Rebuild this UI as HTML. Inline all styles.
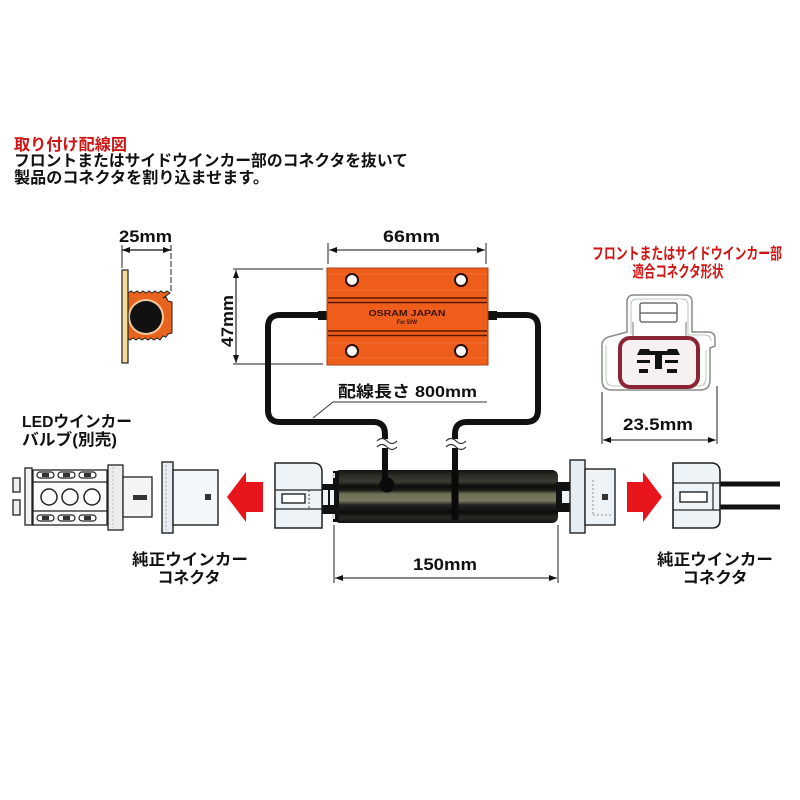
<!DOCTYPE html>
<html><head><meta charset="utf-8">
<style>
html,body{margin:0;padding:0;background:#fff;}
svg{display:block;}
text{font-family:"Liberation Sans","Noto Sans CJK JP",sans-serif;}
</style></head>
<body>
<svg width="800" height="800" viewBox="0 0 800 800" xmlns="http://www.w3.org/2000/svg">
<defs>
<marker id="ar" markerUnits="userSpaceOnUse" markerWidth="8" markerHeight="6" refX="8" refY="3" orient="auto-start-reverse"><path d="M0,0 L8,3 L0,6 z" fill="#111"/></marker>
<linearGradient id="tube" x1="0" y1="0" x2="0" y2="1">
<stop offset="0" stop-color="#111"/>
<stop offset="0.1" stop-color="#2c2c26"/>
<stop offset="0.22" stop-color="#3a3a32"/>
<stop offset="0.3" stop-color="#0e0e0c"/>
<stop offset="0.38" stop-color="#1a1a16"/>
<stop offset="0.45" stop-color="#6e6d55"/>
<stop offset="0.58" stop-color="#7a7960"/>
<stop offset="0.66" stop-color="#222"/>
<stop offset="0.8" stop-color="#0c0c0c"/>
<stop offset="0.9" stop-color="#2a2a24"/>
<stop offset="1" stop-color="#111"/>
</linearGradient>
</defs>
<rect width="800" height="800" fill="#fff"/>

<!-- Header text -->
<text x="14" y="150" font-size="16" font-weight="bold" fill="#d01414" textLength="113" lengthAdjust="spacingAndGlyphs">取り付け配線図</text>
<text x="14" y="166" font-size="16" font-weight="bold" fill="#111" textLength="394" lengthAdjust="spacingAndGlyphs">フロントまたはサイドウインカー部のコネクタを抜いて</text>
<text x="14" y="183" font-size="16" font-weight="bold" fill="#111" textLength="255" lengthAdjust="spacingAndGlyphs">製品のコネクタを割り込ませます。</text>

<!-- 25mm bracket -->
<text x="119" y="242" font-size="17" font-weight="bold" fill="#111" textLength="53" lengthAdjust="spacingAndGlyphs">25mm</text>
<line x1="122" y1="245" x2="122" y2="268" stroke="#222" stroke-width="1"/>
<line x1="171" y1="245" x2="171" y2="293" stroke="#222" stroke-width="1" stroke-dasharray="6,2"/>
<line x1="122" y1="250" x2="171" y2="250" stroke="#111" stroke-width="1.2" marker-start="url(#ar)" marker-end="url(#ar)"/>
<path d="M128 293 l3 -2 l3 2 l3 -2 l3 2 l3 -2 l3 2 l3 -2 l3 2 l3 -2 l3 2 l3 -2 l3 2 l3 -2 l3 2 L163 298 L166 297 L168 301 L172 302 L172 333 L168 334 L166 337 L163 336 L160 340 l-3 -2 l-3 2 l-3 -2 l-3 2 l-3 -2 l-3 2 l-3 -2 l-3 2 l-3 -2 l-3 2 l-3 -2 l-3 2 L128 340 Z" fill="#e8641e" stroke="#222" stroke-width="1"/>
<circle cx="146" cy="317" r="18" fill="#f6c9a0"/>
<circle cx="146" cy="317" r="16" fill="#111"/>
<rect x="122" y="270" width="6" height="93" fill="#f2dc98" stroke="#222" stroke-width="1.2"/>

<!-- 47mm dim -->
<line x1="233" y1="269" x2="323" y2="269" stroke="#222" stroke-width="1"/>
<line x1="233" y1="364" x2="323" y2="364" stroke="#222" stroke-width="1"/>
<line x1="236" y1="270" x2="236" y2="363" stroke="#111" stroke-width="1.1" marker-start="url(#ar)" marker-end="url(#ar)"/>
<text transform="translate(233,321) rotate(-90)" x="0" y="0" text-anchor="middle" font-size="17" font-weight="bold" fill="#111" textLength="52" lengthAdjust="spacingAndGlyphs">47mm</text>

<!-- 66mm dim -->
<text x="383" y="242" font-size="17" font-weight="bold" fill="#111" textLength="57" lengthAdjust="spacingAndGlyphs">66mm</text>
<line x1="328" y1="243" x2="328" y2="264" stroke="#222" stroke-width="1"/>
<line x1="486" y1="243" x2="486" y2="264" stroke="#222" stroke-width="1"/>
<line x1="329" y1="250" x2="485" y2="250" stroke="#111" stroke-width="1.1" marker-start="url(#ar)" marker-end="url(#ar)"/>

<!-- Wires -->
<g fill="none" stroke="#111" stroke-width="6" stroke-linejoin="round">
<path d="M328 315 L280 315 Q268 315 268 327 L268 410 Q268 422 280 422 L373 422 Q385 422 385 434 L385 486"/>
<path d="M487 315 L526 315 Q538 315 538 327 L538 410 Q538 422 526 422 L467 422 Q455 422 455 434 L455 470"/>
</g>
<rect x="318" y="311" width="12" height="9" fill="#111"/>
<rect x="485" y="311" width="12" height="9" fill="#111"/>

<!-- Resistor -->
<rect x="327" y="268" width="161" height="97" fill="#ef5d1a" stroke="#a8401a" stroke-width="1"/>
<g stroke="#f58040" stroke-width="0.8" opacity="0.7">
<line x1="328" y1="274" x2="487" y2="274"/><line x1="328" y1="290" x2="487" y2="290"/>
<line x1="328" y1="343" x2="487" y2="343"/><line x1="328" y1="358" x2="487" y2="358"/>
</g>
<g stroke="#5a1800" stroke-width="1.6">
<line x1="328" y1="298" x2="487" y2="298"/><line x1="328" y1="302.5" x2="487" y2="302.5"/>
<line x1="328" y1="331" x2="487" y2="331"/><line x1="328" y1="335.5" x2="487" y2="335.5"/>
</g>
<g fill="#fff" stroke="#2a0e00" stroke-width="2">
<circle cx="352" cy="280" r="6"/><circle cx="461" cy="280" r="6"/>
<circle cx="352" cy="351" r="6"/><circle cx="461" cy="351" r="6"/>
</g>
<text x="407" y="316" text-anchor="middle" font-family="Liberation Serif,serif" font-size="8" font-weight="bold" fill="#3a1200" textLength="77" lengthAdjust="spacingAndGlyphs">OSRAM JAPAN</text>
<text x="407" y="324" text-anchor="middle" font-family="Liberation Serif,serif" font-size="6" font-weight="bold" fill="#3a1200" textLength="20" lengthAdjust="spacingAndGlyphs">For 50W</text>

<!-- wire length label -->
<text x="338" y="397" font-size="16" font-weight="bold" fill="#111" textLength="139" lengthAdjust="spacingAndGlyphs">配線長さ 800mm</text>
<polyline points="487,402 333,402 313,418" fill="none" stroke="#333" stroke-width="1"/>

<!-- break marks -->
<rect x="376" y="439" width="20" height="9" fill="#fff"/>
<rect x="446" y="439" width="20" height="9" fill="#fff"/>
<g fill="none" stroke="#333" stroke-width="1.2">
<path d="M377 441 q5 -5 10 0 t10 0"/><path d="M377 447 q5 -5 10 0 t10 0"/>
<path d="M446 441 q5 -5 10 0 t10 0"/><path d="M446 447 q5 -5 10 0 t10 0"/>
</g>

<!-- Tube -->
<rect x="334" y="470" width="224" height="53" rx="6" fill="url(#tube)"/>
<line x1="455" y1="470" x2="455" y2="520" stroke="#0a0a0a" stroke-width="7"/>
<circle cx="387" cy="485" r="7.5" fill="#0a0a0a"/>
<line x1="385" y1="470" x2="385" y2="486" stroke="#0a0a0a" stroke-width="6"/>
<rect x="333" y="471" width="6" height="51" fill="#111"/>
<rect x="332" y="473" width="3" height="5" fill="#ddd"/>
<rect x="332" y="514" width="3" height="5" fill="#ddd"/>

<!-- Left connector (male) in harness -->
<rect x="321" y="484" width="15" height="30" fill="#111"/>
<rect x="323" y="490" width="5" height="15" fill="#eef3f7"/>
<rect x="330" y="490" width="4" height="15" fill="#eef3f7"/>
<path d="M275 463 L313 463 Q322 463 322 472 L322 528 L275 528 Z" fill="#eef3f7" stroke="#222" stroke-width="1.5"/>
<line x1="275" y1="490" x2="322" y2="490" stroke="#222" stroke-width="1.2"/>
<line x1="275" y1="509" x2="322" y2="509" stroke="#222" stroke-width="1.2"/>
<rect x="282" y="494" width="23" height="9" fill="#fff" stroke="#222" stroke-width="1.4"/>
<line x1="309" y1="490" x2="309" y2="509" stroke="#444" stroke-width="1" stroke-dasharray="2,2"/>

<!-- Right connector (female) in harness -->
<rect x="556" y="482" width="16" height="30" fill="#111"/>
<rect x="562" y="491" width="8" height="12" fill="#eef3f7"/>
<rect x="570" y="460" width="15" height="73" fill="#e6eef3" stroke="#222" stroke-width="1.4"/>
<rect x="585" y="469" width="30" height="56" fill="#eef3f7" stroke="#222" stroke-width="1.4"/>
<rect x="602" y="494" width="6" height="6" fill="#333"/>
<path d="M593 480 L593 515 M593 515 L612 515" fill="none" stroke="#777" stroke-width="0.8" stroke-dasharray="2,2"/>

<!-- 150mm dim -->
<line x1="334" y1="525" x2="334" y2="583" stroke="#222" stroke-width="1"/>
<line x1="558" y1="525" x2="558" y2="583" stroke="#222" stroke-width="1"/>
<line x1="335" y1="578" x2="557" y2="578" stroke="#111" stroke-width="1.1" marker-start="url(#ar)" marker-end="url(#ar)"/>
<text x="413" y="570" font-size="17" font-weight="bold" fill="#111" textLength="64" lengthAdjust="spacingAndGlyphs">150mm</text>

<!-- Red arrows -->
<polygon points="263,482 246,482 246,472 227,497 246,522 246,512 263,512" fill="#e8141c"/>
<polygon points="627,482 643,482 643,472 662,497 643,522 643,512 627,512" fill="#e8141c"/>

<!-- LED bulb -->
<g stroke="#222" stroke-width="1.3">
<rect x="13" y="478" width="7" height="14" fill="#eee"/>
<rect x="13" y="500" width="7" height="15" fill="#eee"/>
<rect x="25" y="468" width="7" height="57" fill="#f2f2f2"/>
<rect x="33" y="470" width="74" height="55" fill="#fafafa"/>
<line x1="33" y1="482" x2="107" y2="482"/>
<line x1="33" y1="511" x2="107" y2="511"/>
<rect x="108" y="465" width="15" height="65" fill="#ececec"/>
<rect x="123" y="477" width="29" height="40" fill="#f4f4f4"/>
</g>
<g fill="#fff" stroke="#222" stroke-width="1.5">
<circle cx="49" cy="497" r="8"/><circle cx="70" cy="497" r="8"/><circle cx="92" cy="497" r="8"/>
</g>
<g fill="#fff" stroke="#222" stroke-width="1.2">
<rect x="37" y="472" width="17" height="6" rx="3"/><rect x="58" y="472" width="17" height="6" rx="3"/><rect x="79" y="472" width="17" height="6" rx="3"/>
<rect x="37" y="515" width="17" height="6" rx="3"/><rect x="58" y="515" width="17" height="6" rx="3"/><rect x="79" y="515" width="17" height="6" rx="3"/>
</g>
<g fill="#333">
<rect x="42" y="473" width="7" height="4"/><rect x="63" y="473" width="7" height="4"/><rect x="84" y="473" width="7" height="4"/>
<rect x="42" y="516" width="7" height="4"/><rect x="63" y="516" width="7" height="4"/><rect x="84" y="516" width="7" height="4"/>
</g>
<rect x="133" y="495" width="14" height="5" fill="#333"/>
<line x1="113" y1="467" x2="113" y2="528" stroke="#bbb" stroke-width="1" stroke-dasharray="2,2"/>

<!-- Middle connector (left) -->
<rect x="162" y="462" width="11" height="71" fill="#e6eef3" stroke="#222" stroke-width="1.4"/>
<rect x="173" y="470" width="45" height="55" fill="#f4f7f9" stroke="#222" stroke-width="1.4"/>
<rect x="205" y="494" width="6" height="6" fill="#333"/>
<line x1="166" y1="465" x2="166" y2="530" stroke="#aaa" stroke-width="1" stroke-dasharray="2,2"/>

<!-- Right original connector -->
<line x1="720" y1="484" x2="780" y2="484" stroke="#111" stroke-width="5"/>
<line x1="720" y1="507" x2="780" y2="507" stroke="#111" stroke-width="5"/>
<path d="M673 463 L711 463 Q720 463 720 472 L720 520 Q720 528 712 528 L673 528 Z" fill="#eef3f7" stroke="#222" stroke-width="1.6"/>
<line x1="673" y1="483" x2="720" y2="483" stroke="#222" stroke-width="1.3"/>
<line x1="673" y1="510" x2="720" y2="510" stroke="#222" stroke-width="1.3"/>
<rect x="680" y="492" width="27" height="10" fill="#fff" stroke="#222" stroke-width="1.4"/>
<line x1="713" y1="483" x2="713" y2="510" stroke="#222" stroke-width="1.2"/>

<!-- Left labels -->
<text x="22" y="427" font-size="16" font-weight="bold" fill="#111" textLength="110" lengthAdjust="spacingAndGlyphs">LEDウインカー</text>
<text x="22" y="445" font-size="16" font-weight="bold" fill="#111" textLength="95" lengthAdjust="spacingAndGlyphs">バルブ(別売)</text>
<text x="190" y="565" text-anchor="middle" font-size="16" font-weight="bold" fill="#111" textLength="116" lengthAdjust="spacingAndGlyphs">純正ウインカー</text>
<text x="189" y="583" text-anchor="middle" font-size="16" font-weight="bold" fill="#111" textLength="63" lengthAdjust="spacingAndGlyphs">コネクタ</text>
<text x="715" y="565" text-anchor="middle" font-size="16" font-weight="bold" fill="#111" textLength="116" lengthAdjust="spacingAndGlyphs">純正ウインカー</text>
<text x="715" y="583" text-anchor="middle" font-size="16" font-weight="bold" fill="#111" textLength="65" lengthAdjust="spacingAndGlyphs">コネクタ</text>

<!-- Right connector shape diagram -->
<text x="687" y="259" text-anchor="middle" font-size="16" font-weight="bold" fill="#d01414" textLength="190" lengthAdjust="spacingAndGlyphs">フロントまたはサイドウインカー部</text>
<text x="678" y="277" text-anchor="middle" font-size="16" font-weight="bold" fill="#d01414" textLength="91" lengthAdjust="spacingAndGlyphs">適合コネクタ形状</text>

<path d="M627 332 L627 302 Q627 295 634 295 L685 295 Q692 295 692 302 L692 332 L708 332 Q715 332 715 339 L715 346 L710 348 L710 380 Q710 390 700 390 L612 390 Q602 390 602 380 L602 345 Q602 338 612 336 L627 332 Z" fill="#fff" stroke="#8a8a8a" stroke-width="1.5"/>
<path d="M631 334 L631 305 Q631 299 637 299 L682 299 Q688 299 688 305 L688 335 L706 335 Q711 336 711 341" fill="none" stroke="#b8c8b8" stroke-width="1"/>
<path d="M606 345 L606 378 Q606 386 614 386 L698 386 Q706 386 706 378 L706 350" fill="none" stroke="#b8c8b8" stroke-width="1"/>
<line x1="633" y1="322" x2="633" y2="338" stroke="#777" stroke-width="1"/>
<line x1="686" y1="322" x2="686" y2="338" stroke="#777" stroke-width="1"/>
<rect x="640" y="303" width="37" height="19" rx="2" fill="#fff" stroke="#555" stroke-width="1.3"/>
<line x1="640" y1="313" x2="677" y2="313" stroke="#555" stroke-width="1.2"/>
<rect x="620" y="338" width="78" height="49" rx="10" fill="#f7f0f1" stroke="#8b2535" stroke-width="4"/>
<g fill="#111">
<path d="M637 355 L640 349 L649 349 L652 355 Z"/>
<path d="M665 355 L668 349 L677 349 L680 355 Z"/>
<rect x="650" y="351" width="17" height="4"/>
<rect x="655" y="351" width="7" height="18"/>
<rect x="637" y="360" width="13" height="3"/>
<rect x="665" y="360" width="13" height="3"/>
<rect x="639" y="369" width="9" height="4"/>
<rect x="667" y="369" width="10" height="4"/>
</g>
<line x1="602" y1="392" x2="602" y2="444" stroke="#222" stroke-width="1"/>
<line x1="717" y1="386" x2="717" y2="444" stroke="#222" stroke-width="1"/>
<line x1="603" y1="440" x2="716" y2="440" stroke="#111" stroke-width="1.1" marker-start="url(#ar)" marker-end="url(#ar)"/>
<text x="623" y="430" font-size="17" font-weight="bold" fill="#111" textLength="70" lengthAdjust="spacingAndGlyphs">23.5mm</text>
</svg>
</body></html>
